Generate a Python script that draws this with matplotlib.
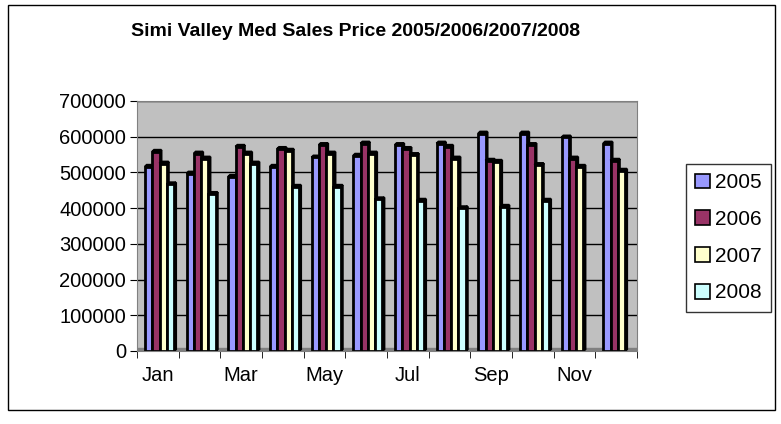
import numpy as np
import matplotlib.pyplot as plt
from matplotlib.patches import Rectangle, Polygon

plt.rcParams['font.family'] = ['Liberation Sans', 'DejaVu Sans']

months = ['Jan', 'Feb', 'Mar', 'Apr', 'May', 'Jun', 'Jul', 'Aug', 'Sep', 'Oct', 'Nov', 'Dec']
years = ['2005', '2006', '2007', '2008']
p2005 = [516000, 497000, 488000, 516000, 542000, 547000, 577000, 581000, 609000, 609000, 598000, 581000]
p2006 = [558000, 553000, 572000, 566000, 577000, 581000, 566000, 572000, 533000, 577000, 539000, 533000]
p2007 = [525000, 539000, 553000, 561000, 553000, 553000, 549000, 539000, 530000, 521000, 516000, 505000]
p2008 = [467000, 440000, 525000, 460000, 460000, 425000, 421000, 400000, 404000, 421000, None, None]
colors = ['#9999ff', '#993366', '#ffffcc', '#ccffff']

fig = plt.figure(figsize=(7.81, 4.24), dpi=100)
ax = fig.add_axes([137/781, (424-351)/424, 500/781, 250/424])
ax.set_facecolor('#c0c0c0')
ax.set_xlim(0, 12)
ax.set_ylim(0, 700000)

# gridlines
for v in range(100000, 700001, 100000):
    ax.axhline(v, color='black', lw=1, zorder=1)
# floor strip
ax.add_patch(Rectangle((0, 0), 12, 9000, color='#808080', zorder=1.5))

w = 0.175
dx, dy = 0.045, 5000
for k, series in enumerate([p2005, p2006, p2007, p2008]):
    for i, v in enumerate(series):
        if v is None:
            continue
        x0 = i + 0.19 + k * w
        # side and top faces for the 3D look
        side = Polygon([(x0 + w, 0), (x0 + w + dx, dy), (x0 + w + dx, v + dy), (x0 + w, v)],
                       closed=True, fc=colors[k], ec='black', lw=1.6, zorder=2 + k * 0.1)
        top = Polygon([(x0, v), (x0 + dx, v + dy), (x0 + w + dx, v + dy), (x0 + w, v)],
                      closed=True, fc=colors[k], ec='black', lw=1.6, zorder=2 + k * 0.1)
        ax.add_patch(side)
        ax.add_patch(top)
        ax.add_patch(Rectangle((x0, 0), w, v, fc=colors[k], ec='black', lw=2,
                               zorder=2.05 + k * 0.1))

for s in ['top', 'right', 'left', 'bottom']:
    ax.spines[s].set_color('#808080')

ax.set_yticks(range(0, 700001, 100000))
ax.set_yticklabels([str(v) for v in range(0, 700001, 100000)], fontsize=14.5)
ax.set_xticks(np.arange(0, 13), minor=True)
ax.set_xticks(np.arange(0.5, 12, 2))
ax.set_xticklabels(months[::2], fontsize=14.5)
ax.tick_params(axis='x', which='major', length=0, pad=11)
ax.tick_params(axis='x', which='minor', length=5, direction='out')
ax.tick_params(axis='y', length=5, direction='out', pad=3)

fig.text(356/781, 1 - 32/424, 'Simi Valley Med Sales Price 2005/2006/2007/2008',
         ha='center', va='center', fontsize=14, fontweight='bold')

handles = [Rectangle((0, 0), 1, 1, fc=c, ec='black', lw=1.2) for c in colors]
leg = fig.legend(handles, years, loc='upper left',
                 bbox_to_anchor=(686/781, 1 - 164/424), fontsize=15,
                 frameon=True, fancybox=False, edgecolor='black',
                 handlelength=0.7, handleheight=0.7, handletextpad=0.25,
                 labelspacing=0.85, borderpad=0.45, borderaxespad=0)
leg.get_frame().set_linewidth(1)

fig.add_artist(Rectangle((8/781, (424-410)/424), 767/781, 405/424,
                         transform=fig.transFigure, fill=False, ec='black', lw=1))

fig.savefig('out.png', dpi=100)
